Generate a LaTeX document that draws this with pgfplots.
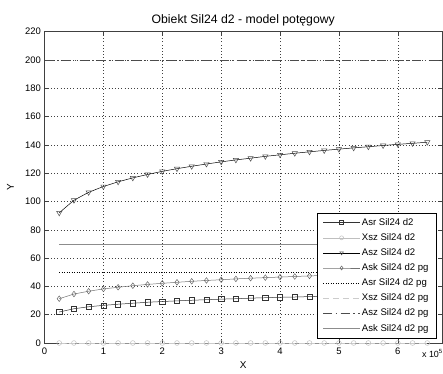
\documentclass[border=0pt]{standalone}
\usepackage{fontspec}
\setmainfont{Liberation Sans}
\usepackage{pgfplots}
\pgfplotsset{compat=1.18}
\begin{document}
\begin{tikzpicture}
\useasboundingbox (0,0) rectangle (443bp,374bp);
\begin{axis}[
  at={(44.5bp,31bp)}, anchor=south west,
  scale only axis, width=397.5bp, height=311.3bp,
  xmin=0, xmax=6.75, ymin=0, ymax=220,
  xtick={0,1,2,3,4,5,6}, ytick={0,20,...,220},
  tick align=inside, major tick length=4bp,
  xtick pos=both, ytick pos=both,
  axis line style={black!75, line width=0.6pt},
  tick style={black!75, line width=0.5pt},
  grid=major, major grid style={black!75, line width=0.5pt, dash pattern=on 0.8bp off 2.4bp},
  tick label style={font=\fontsize{9.5}{10}\selectfont},
  /pgf/number format/assume math mode=true,
  xticklabel style={yshift=-1bp},
  clip=false,
  legend cell align=left,
  legend image code/.code={\draw[mark repeat=2,mark phase=2,#1,mark size=2bp] plot coordinates {(0bp,0bp) (18.4bp,0bp) (36.8bp,0bp)};},
  legend style={at={(rel axis cs:1,0)}, anchor=south east, xshift=-6bp, yshift=4.7bp,
    draw=black, fill=white, line width=0.5pt, font=\fontsize{9.6}{10}\selectfont,
    nodes={text height=7.5bp, text depth=2.2bp, inner sep=1.5bp}, row sep=2.4bp,
    inner xsep=5.8bp, inner ysep=3.3bp},
]
% Asr Sil24 d2
\addplot[black!80, line width=0.5pt, mark=square, mark size=2.6bp, mark options={solid, black!80}] coordinates {
(0.25,21.9)(0.5,24.2)(0.75,25.6)(1,26.6)(1.25,27.4)(1.5,28.1)(1.75,28.8)(2,29.3)(2.25,29.8)(2.5,30.2)(2.75,30.6)(3,31.0)(3.25,31.3)(3.5,31.7)(3.75,32.0)(4,32.3)(4.25,32.5)(4.5,32.8)(4.75,33.0)(5,33.3)(5.25,33.5)(5.5,33.7)(5.75,33.9)(6,34.1)(6.25,34.3)(6.5,34.5)};
\addlegendentry{Asr Sil24 d2}
% Xsz Sil24 d2
\addplot[black!25, line width=0.5pt, mark=o, mark size=2.4bp, mark options={solid, black!25}] coordinates {
(0.25,0)(0.5,0)(0.75,0)(1,0)(1.25,0)(1.5,0)(1.75,0)(2,0)(2.25,0)(2.5,0)(2.75,0)(3,0)(3.25,0)(3.5,0)(3.75,0)(4,0)(4.25,0)(4.5,0)(4.75,0)(5,0)(5.25,0)(5.5,0)(5.75,0)(6,0)(6.25,0)(6.5,0)};
\addlegendentry{Xsz Sil24 d2}
% Asz Sil24 d2
\addplot[black, line width=0.5pt, mark=triangle, mark size=3bp, mark options={solid, rotate=180, black!70}] coordinates {
(0.25,92.0)(0.5,100.9)(0.75,106.5)(1,110.6)(1.25,113.9)(1.5,116.7)(1.75,119.1)(2,121.3)(2.25,123.2)(2.5,124.9)(2.75,126.5)(3,128.0)(3.25,129.4)(3.5,130.6)(3.75,131.9)(4,133.0)(4.25,134.1)(4.5,135.1)(4.75,136.1)(5,137.0)(5.25,137.9)(5.5,138.7)(5.75,139.6)(6,140.4)(6.25,141.1)(6.5,141.9)};
\addlegendentry{Asz Sil24 d2}
% Ask Sil24 d2
\addplot[black!55, line width=0.5pt, mark=diamond, mark size=2.8bp, mark options={solid, black!60}] coordinates {
(0.25,31.3)(0.5,34.6)(0.75,36.6)(1,38.2)(1.25,39.4)(1.5,40.5)(1.75,41.4)(2,42.2)(2.25,42.9)(2.5,43.6)(2.75,44.2)(3,44.7)(3.25,45.3)(3.5,45.8)(3.75,46.2)(4,46.6)(4.25,47.0)(4.5,47.4)(4.75,47.8)(5,48.2)(5.25,48.5)(5.5,48.8)(5.75,49.1)(6,49.4)(6.25,49.7)(6.5,50.0)};
\addlegendentry{Ask Sil24 d2 pg}
% Asr Sil24 d2 pg
\addplot[black, line width=0.5pt, dotted] coordinates {(0.25,50)(6.5,50)};
\addlegendentry{Asr Sil24 d2 pg}
% Xsz Sil24 d2 pg
\addplot[black!20, line width=0.6pt, dash pattern=on 6bp off 4bp] coordinates {(0.25,0)(6.5,0)};
\addlegendentry{Xsz Sil24 d2 pg}
% Asz Sil24 d2 pg
\addplot[black!70, line width=0.6pt, dash pattern=on 9bp off 3.5bp on 1.5bp off 3.5bp] coordinates {(0,200)(6.75,200)};
\addlegendentry{Asz Sil24 d2 pg}
% Ask Sil24 d2 pg
\addplot[black!45, line width=1pt] coordinates {(0.25,69.5)(6.5,69.5)};
\addlegendentry{Ask Sil24 d2 pg}
\node[font=\fontsize{12.3}{13}\selectfont, anchor=base] at (rel axis cs:0.5,1) [yshift=8bp] {Obiekt Sil24 d2 - model potęgowy};
\node[font=\fontsize{10}{11}\selectfont] at (rel axis cs:0.5,0) [yshift=-22bp] {X};
\node[font=\fontsize{10}{11}\selectfont, xshift=-34bp, rotate=90] at (rel axis cs:0,0.5) {Y};
\node[font=\fontsize{9}{10}\selectfont, anchor=north east, inner sep=0pt] at (rel axis cs:1,0) [xshift=1bp, yshift=-6bp] {x 10\textsuperscript{5}};
\end{axis}
\end{tikzpicture}
\end{document}
